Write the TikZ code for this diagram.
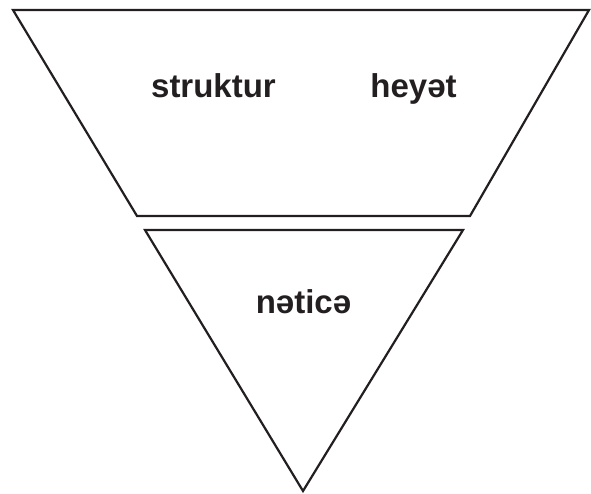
\documentclass[tikz,border=0pt]{standalone}
\usepackage{fontspec}
\setmainfont{Liberation Sans}
\usepackage{tikz}
\usetikzlibrary{positioning,calc}
\usepackage{xcolor}
\definecolor{outline}{RGB}{35,31,32}

\begin{document}
\begin{tikzpicture}[
    x=1pt, y=-1pt,
    part/.style={draw=outline, line width=2.2pt, line join=miter},
    label/.style={anchor=base, inner sep=0pt, text=outline, font=\fontsize{33}{37}\selectfont\bfseries}
]
    \useasboundingbox (0,0) rectangle (591,493);
    
    % Upper trapezoid
    \draw[part] (13,10) -- (589,10) -- (470,216) -- (137,216) -- cycle;
    
    % Lower triangle
    \draw[part] (145,230) -- (463,230) -- (303,491) -- cycle;
    
    % Labels
    \node[label] (struktur) at (213.5,97) {struktur};
    \node[label] (heyet) at (413.5,97) {heyət};
    \node[label] (netice) at (303.5,313) {nəticə};
\end{tikzpicture}
\end{document}
